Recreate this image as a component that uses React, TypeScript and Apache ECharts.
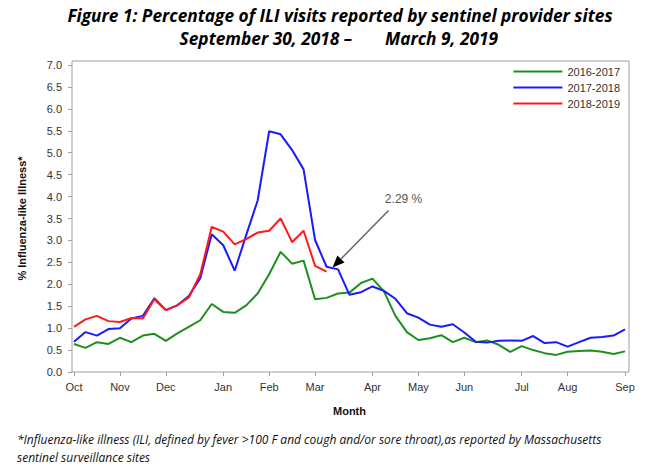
import React, { useEffect, useRef } from 'react';
import * as echarts from 'echarts';

// MMWR weeks, Oct through Sep
const weeks = [
  40, 41, 42, 43, 44, 45, 46, 47, 48, 49, 50, 51, 52,
  1, 2, 3, 4, 5, 6, 7, 8, 9, 10, 11, 12, 13, 14, 15, 16, 17, 18, 19, 20,
  21, 22, 23, 24, 25, 26, 27, 28, 29, 30, 31, 32, 33, 34, 35, 36
];

const monthLabels = ['Oct', 'Nov', 'Dec', 'Jan', 'Feb', 'Mar', 'Apr', 'May', 'Jun', 'Jul', 'Aug', 'Sep'];
const monthTickIndex = [0, 4, 8, 13, 17, 21, 26, 30, 34, 39, 43, 48];

const season1617 = [
  0.64, 0.55, 0.68, 0.64, 0.78, 0.68, 0.83, 0.87, 0.71, 0.88, 1.03, 1.18, 1.55,
  1.37, 1.35, 1.52, 1.79, 2.23, 2.74, 2.47, 2.54, 1.66, 1.69, 1.79, 1.81, 2.03,
  2.13, 1.84, 1.28, 0.91, 0.73, 0.77, 0.84, 0.68, 0.78, 0.68, 0.72, 0.62, 0.46,
  0.59, 0.50, 0.43, 0.39, 0.46, 0.48, 0.49, 0.46, 0.41, 0.47
];

const season1718 = [
  0.69, 0.91, 0.83, 0.98, 1.00, 1.22, 1.28, 1.68, 1.41, 1.52, 1.73, 2.14, 3.14,
  2.89, 2.31, 3.12, 3.91, 5.49, 5.42, 5.06, 4.62, 3.01, 2.40, 2.34, 1.76, 1.82,
  1.95, 1.85, 1.67, 1.34, 1.24, 1.08, 1.03, 1.09, 0.90, 0.69, 0.67, 0.71, 0.72,
  0.71, 0.82, 0.66, 0.68, 0.58, 0.68, 0.78, 0.80, 0.83, 0.97
];

const season1819 = [
  1.03, 1.20, 1.28, 1.16, 1.14, 1.23, 1.22, 1.66, 1.41, 1.52, 1.70, 2.23, 3.31,
  3.20, 2.91, 3.03, 3.18, 3.22, 3.50, 2.96, 3.22, 2.42, 2.29
];

const seasonNames = ['2016-2017', '2017-2018', '2018-2019'];
const seasonColors = ['#1e8f1e', '#1a1aff', '#ff1a1a'];

const AXIS_FONT = '"Liberation Sans", Arial, sans-serif';
const TITLE_FONT = '"Open Sans", Lato, sans-serif';

const App: React.FC = () => {
  const chartRef = useRef<HTMLDivElement>(null);

  useEffect(() => {
    if (!chartRef.current) return;
    const chart = echarts.init(chartRef.current, undefined, { renderer: 'svg' });

    const isMonthTick = (i: number) => monthTickIndex.includes(i);

    const option: echarts.EChartsOption = {
      animation: false,
      grid: { left: 74, right: 22, top: 65, bottom: 97 },
      legend: {
        orient: 'vertical',
        right: 22,
        top: 60,
        icon: 'rect',
        itemWidth: 49,
        itemHeight: 2,
        itemGap: 3,
        textStyle: { fontFamily: AXIS_FONT, fontSize: 11, color: '#333', lineHeight: 13 },
        data: seasonNames
      },
      xAxis: {
        type: 'category',
        data: weeks.map(String),
        boundaryGap: false,
        name: 'Month',
        nameLocation: 'middle',
        nameGap: 33,
        nameTextStyle: { fontFamily: AXIS_FONT, fontSize: 11, fontWeight: 'bold', color: '#111' },
        axisLine: { show: false },
        axisTick: {
          show: true,
          length: 4,
          interval: (i: number) => isMonthTick(i),
          lineStyle: { color: '#a0a0a0' }
        },
        axisLabel: {
          interval: (i: number) => isMonthTick(i),
          formatter: (_v: string, i: number) => monthLabels[monthTickIndex.indexOf(i)] ?? '',
          margin: 9,
          fontFamily: AXIS_FONT,
          fontSize: 11,
          color: '#333'
        },
        splitLine: { show: false }
      },
      yAxis: {
        type: 'value',
        min: 0,
        max: 7,
        interval: 0.5,
        offset: 2,
        name: '% Influenza-like Illness*',
        nameLocation: 'middle',
        nameGap: 45,
        nameTextStyle: { fontFamily: AXIS_FONT, fontSize: 11, fontWeight: 'bold', color: '#111' },
        axisLine: { show: false },
        axisTick: { show: true, length: 4, lineStyle: { color: '#a0a0a0' } },
        axisLabel: {
          formatter: (v: number) => v.toFixed(1),
          margin: 10,
          fontFamily: AXIS_FONT,
          fontSize: 11,
          color: '#333'
        },
        splitLine: { show: false }
      },
      series: [season1617, season1718, season1819].map((d, i) => ({
        name: seasonNames[i],
        type: 'line' as const,
        data: d,
        symbol: 'none',
        lineStyle: { width: 2, color: seasonColors[i] },
        itemStyle: { color: seasonColors[i] }
      }))
    };

    chart.setOption(option);

    // annotation arrow pointing at latest 2018-2019 value
    const lastIdx = season1819.length - 1;
    const lastVal = season1819[lastIdx];
    const p = chart.convertToPixel({ seriesIndex: 2 }, [lastIdx, lastVal]) as number[];
    const tip = [p[0] + 6, p[1] - 4];
    const start = [tip[0] + 56, tip[1] - 57];
    const dx = start[0] - tip[0];
    const dy = start[1] - tip[1];
    const len = Math.sqrt(dx * dx + dy * dy);
    const ux = dx / len;
    const uy = dy / len;
    const headLen = 12;
    const headW = 5;
    const base = [tip[0] + ux * headLen, tip[1] + uy * headLen];

    const titleStyle = {
      fontFamily: TITLE_FONT,
      fontSize: 17.3,
      fontWeight: 'bold' as const,
      fontStyle: 'italic' as const,
      fill: '#000',
      verticalAlign: 'middle' as const
    };
    const noteStyle = {
      fontFamily: TITLE_FONT,
      fontSize: 12,
      fontStyle: 'italic' as const,
      fill: '#111',
      align: 'left' as const,
      verticalAlign: 'middle' as const
    };

    chart.setOption({
      graphic: [
        {
          type: 'rect',
          shape: { x: 72, y: 61, width: 557, height: 311 },
          style: { fill: 'none', stroke: '#a0a0a0', lineWidth: 1 },
          silent: true
        },
        {
          type: 'line',
          shape: { x1: start[0], y1: start[1], x2: base[0], y2: base[1] },
          style: { stroke: '#666', lineWidth: 1.5 }
        },
        {
          type: 'polygon',
          shape: {
            points: [
              tip,
              [base[0] - uy * headW, base[1] + ux * headW],
              [base[0] + uy * headW, base[1] - ux * headW]
            ]
          },
          style: { fill: '#000' }
        },
        {
          type: 'text',
          x: start[0] + 15,
          y: start[1] - 12,
          style: {
            text: `${lastVal.toFixed(2)} %`,
            fontFamily: AXIS_FONT,
            fontSize: 12,
            fill: '#555',
            align: 'center',
            verticalAlign: 'middle'
          }
        },
        {
          type: 'text',
          x: 340,
          y: 15,
          style: {
            ...titleStyle,
            text: 'Figure 1: Percentage of ILI visits reported by sentinel provider sites',
            align: 'center'
          }
        },
        {
          type: 'text',
          x: 352,
          y: 38,
          style: { ...titleStyle, text: 'September 30, 2018 \u2013', align: 'right' }
        },
        {
          type: 'text',
          x: 385,
          y: 38,
          style: { ...titleStyle, text: 'March 9, 2019', align: 'left' }
        },
        {
          type: 'text',
          x: 17,
          y: 439,
          style: {
            ...noteStyle,
            text: '*Influenza-like illness (ILI, defined by fever >100 F and cough and/or sore throat),as reported by Massachusetts'
          }
        },
        {
          type: 'text',
          x: 17,
          y: 457,
          style: { ...noteStyle, text: 'sentinel surveillance sites' }
        }
      ]
    });

    return () => {
      chart.dispose();
    };
  }, []);

  return (
    <div
      ref={chartRef}
      style={{ position: 'fixed', left: 0, top: 0, width: 647, height: 469, background: '#fff' }}
    />
  );
};

export default App;
